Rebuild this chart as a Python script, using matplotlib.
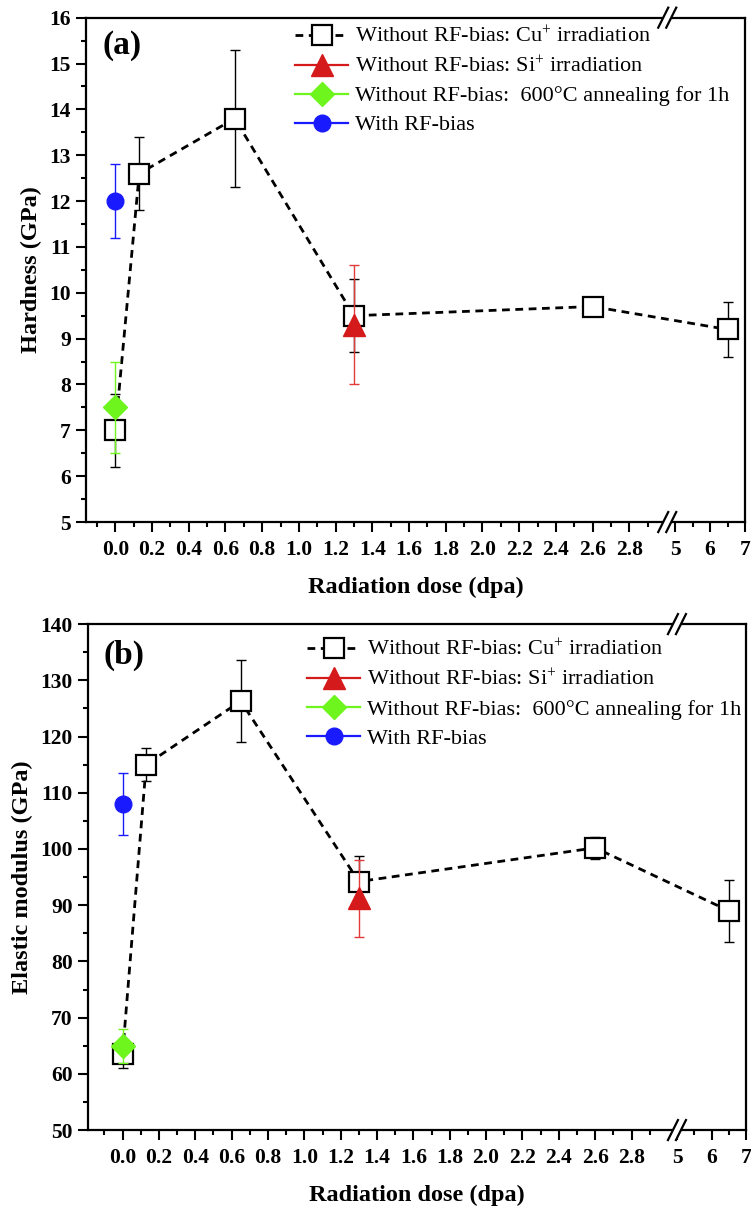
import numpy as np
import matplotlib
matplotlib.use("Agg")
import matplotlib.pyplot as plt
from matplotlib.patches import Polygon

plt.rcParams['font.family'] = ['Liberation Serif', 'DejaVu Serif']
plt.rcParams['mathtext.fontset'] = 'custom'
plt.rcParams['mathtext.rm'] = 'Liberation Serif'
plt.rcParams['mathtext.it'] = 'Liberation Serif:italic'
plt.rcParams['mathtext.bf'] = 'Liberation Serif:bold'

# ---------------- data ----------------
cu_x = [0.0, 0.13, 0.65, 1.3, 2.6, 6.5]
si_x = [1.3]
ann_x = [0.0]
rf_x = [0.0]

hard_cu = [7.0, 12.6, 13.8, 9.5, 9.7, 9.2]
hard_cu_err = [0.8, 0.8, 1.5, 0.8, 0.1, 0.6]
hard_si = [9.3]
hard_si_err = [1.3]
hard_ann = [7.5]
hard_ann_err = [1.0]
hard_rf = [12.0]
hard_rf_err = [0.8]

mod_cu = [63.5, 115.0, 126.3, 94.2, 100.2, 89.0]
mod_cu_err = [2.5, 3.0, 7.3, 4.6, 2.0, 5.5]
mod_si = [91.2]
mod_si_err = [6.8]
mod_ann = [65.0]
mod_ann_err = [3.0]
mod_rf = [108.0]
mod_rf_err = [5.6]

major_ticks = [0.0, 0.2, 0.4, 0.6, 0.8, 1.0, 1.2, 1.4, 1.6, 1.8, 2.0, 2.2, 2.4, 2.6, 2.8, 5, 6, 7]
major_labels = ['0.0', '0.2', '0.4', '0.6', '0.8', '1.0', '1.2', '1.4', '1.6', '1.8',
                '2.0', '2.2', '2.4', '2.6', '2.8', '5', '6', '7']
minor_ticks = [-0.1, 0.1, 0.3, 0.5, 0.7, 0.9, 1.1, 1.3, 1.5, 1.7, 1.9, 2.1, 2.3, 2.5, 2.7, 2.9, 5.5, 6.5]

labels = ['Without RF-bias: Cu$^{+}$ irradiation',
          'Without RF-bias: Si$^{+}$ irradiation',
          'Without RF-bias:  600\u00b0C annealing for 1h',
          'With RF-bias']

# broken axis scale: linear up to 3, compressed gap, then 5..7 compressed
B5 = 3.05
K = 0.19


def fwd(x):
    x = np.asarray(x, dtype=float)
    return np.where(x <= 3, x, np.where(x < 5, 3 + (x - 3) * (B5 - 3) / 2.0, B5 + (x - 5) * K))


def inv(u):
    u = np.asarray(u, dtype=float)
    return np.where(u <= 3, u, np.where(u < B5, 3 + (u - 3) * 2.0 / (B5 - 3), 5 + (u - B5) / K))


C_RED = '#d41a1a'
C_RED_E = '#e33a3a'
C_GREEN = '#6ef51e'
C_BLUE = '#1a1aff'

fig = plt.figure(figsize=(7.51, 12.09), dpi=100)
ax_a = fig.add_axes([0.1145, 0.5682, 0.8775, 0.4172])
ax_b = fig.add_axes([0.1172, 0.0653, 0.8762, 0.4185])


def draw_break(ax, xfrac):
    w = ax.bbox.width
    h = ax.bbox.height
    for yb in (0.0, 1.0):
        dx = 4.0 / w
        sx = 5.0 / w
        sy = 10.0 / h
        poly = Polygon([(xfrac - dx - sx, yb - sy), (xfrac + dx - sx, yb - sy),
                        (xfrac + dx + sx, yb + sy), (xfrac - dx + sx, yb + sy)],
                       closed=True, transform=ax.transAxes, facecolor='white',
                       edgecolor='none', clip_on=False, zorder=20)
        ax.add_patch(poly)
        for c in (xfrac - dx, xfrac + dx):
            ax.plot([c - sx, c + sx], [yb - sy, yb + sy], transform=ax.transAxes,
                    color='black', lw=1.6, clip_on=False, zorder=21)


def panel(ax, cu, cu_e, si, si_e, ann, ann_e, rf, rf_e, ylim, ymaj, ymin, ylabel,
          tag, xleft, leg_anchor, tag_pos, brk):
    ax.set_xscale('function', functions=(fwd, inv))
    ms_sq = 14
    ax.errorbar(cu_x, cu, yerr=cu_e, fmt='none', ecolor='black', elinewidth=1.0,
                capsize=3.5, capthick=1.0, zorder=2)
    ax.plot(cu_x, cu, linestyle=(0, (2.8, 2.0)), color='black', lw=2.0, marker='s',
            ms=ms_sq, mfc='white', mec='black', mew=1.6, zorder=3, label=labels[0])
    ax.errorbar(si_x, si, yerr=si_e, fmt='none', ecolor=C_RED_E, elinewidth=1.0,
                capsize=3.5, capthick=1.0, zorder=4)
    ax.plot(si_x, si, '-', color=C_RED, lw=1.6, marker='^', ms=16, mfc=C_RED,
            mec=C_RED, zorder=5, label=labels[1])
    ax.errorbar(ann_x, ann, yerr=ann_e, fmt='none', ecolor=C_GREEN, elinewidth=1.0,
                capsize=3.5, capthick=1.0, zorder=4)
    ax.plot(ann_x, ann, '-', color=C_GREEN, lw=1.6, marker='D', ms=12, mfc=C_GREEN,
            mec=C_GREEN, zorder=5, label=labels[2])
    ax.errorbar(rf_x, rf, yerr=rf_e, fmt='none', ecolor=C_BLUE, elinewidth=1.0,
                capsize=3.5, capthick=1.0, zorder=4)
    ax.plot(rf_x, rf, '-', color=C_BLUE, lw=1.6, marker='o', ms=12, mfc=C_BLUE,
            mec=C_BLUE, zorder=5, label=labels[3])

    ax.set_xlim(xleft, 7)
    ax.set_ylim(*ylim)
    ax.set_xticks(major_ticks)
    ax.set_xticklabels(major_labels)
    ax.set_xticks(minor_ticks, minor=True)
    ax.set_yticks(ymaj)
    ax.set_yticks(ymin, minor=True)
    ax.tick_params(axis='both', which='major', direction='out', length=7, width=1.5,
                   labelsize=15.5, top=False, right=False)
    ax.tick_params(axis='both', which='minor', direction='out', length=3.5, width=1.5,
                   top=False, right=False)
    ax.tick_params(axis='x', which='major', pad=6)
    ax.tick_params(axis='y', which='major', pad=4)
    for lab in ax.get_xticklabels() + ax.get_yticklabels():
        lab.set_fontweight('bold')
    for sp in ax.spines.values():
        sp.set_linewidth(1.6)
    ax.set_xlabel('Radiation dose (dpa)', fontsize=17.5, fontweight='bold', labelpad=12)
    ax.set_ylabel(ylabel, fontsize=17.5, fontweight='bold', labelpad=5)
    ax.text(tag_pos[0], tag_pos[1], tag, transform=ax.transAxes, fontsize=24,
            fontweight='bold', ha='center', va='center')
    ax.legend(loc='upper left', bbox_to_anchor=leg_anchor, frameon=False,
              fontsize=16, handlelength=2.4, handletextpad=0.3,
              labelspacing=0.38, borderpad=0, borderaxespad=0, numpoints=1)
    draw_break(ax, brk)


panel(ax_a, hard_cu, hard_cu_err, hard_si, hard_si_err, hard_ann, hard_ann_err,
      hard_rf, hard_rf_err, (5, 16), np.arange(5, 17, 1), np.arange(5.5, 16, 1),
      'Hardness (GPa)', '(a)', -0.16, (0.317, 0.982), (0.055, 0.945), 0.882)
panel(ax_b, mod_cu, mod_cu_err, mod_si, mod_si_err, mod_ann, mod_ann_err,
      mod_rf, mod_rf_err, (50, 140), np.arange(50, 141, 10), np.arange(55, 140, 10),
      'Elastic modulus (GPa)', '(b)', -0.19, (0.333, 0.969), (0.055, 0.939), 0.895)

fig.savefig('out.png', dpi=100)
